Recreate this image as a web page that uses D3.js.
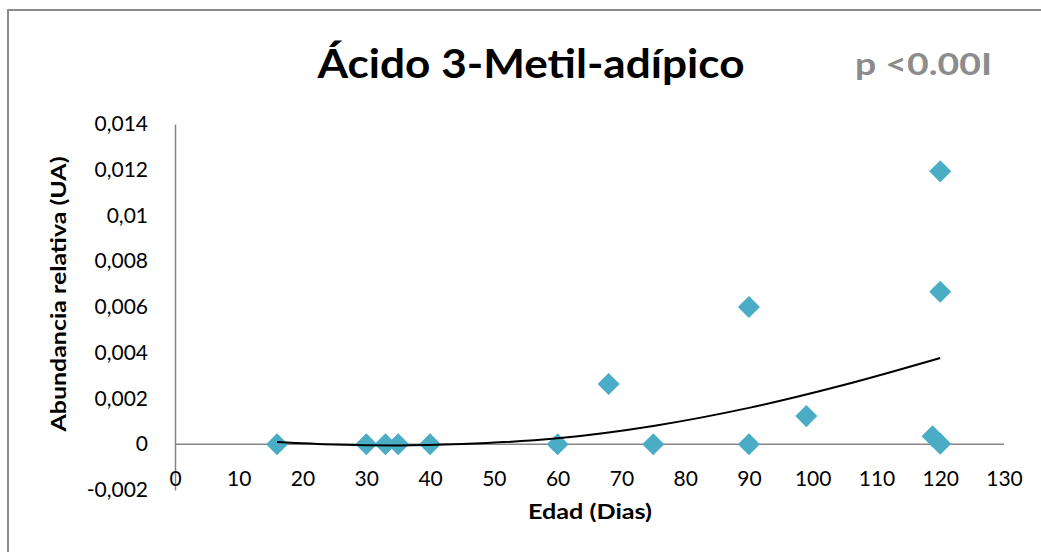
<!DOCTYPE html>
<html>
<head>
<meta charset="utf-8">
<script src="https://cdn.jsdelivr.net/npm/d3@7"></script>
<style>
  body { margin: 0; background: #fff; }
  svg text { font-family: Lato, "Open Sans", sans-serif; }
</style>
</head>
<body>
<svg width="1041" height="552"></svg>
<script>
// values
const edad = [16, 30, 33, 35, 40, 60, 68, 75, 90, 90, 99, 118.8, 120, 120, 120]
const abundancia = [0, 0, 0, 0, 0, 0, 0.00263, 0, 0, 0.006, 0.00123, 0.00035, 0.00002, 0.00667, 0.01193]

// polynomial trendline
const trendEdad = [16, 25, 35, 45, 60, 75, 90, 105, 120]
const trendValor = [0.0001, -0.00001, -0.00005, 0.00001, 0.00026, 0.0008, 0.00159, 0.0026, 0.00377]

const xTicks = [0, 10, 20, 30, 40, 50, 60, 70, 80, 90, 100, 110, 120, 130]
const yTicks = [-0.002, 0, 0.002, 0.004, 0.006, 0.008, 0.01, 0.012, 0.014]

const title = 'Ácido 3-Metil-adípico'
const pText = 'p <0.00I'
const xAxisLabel = 'Edad (Dias)'
const yAxisLabel = 'Abundancia relativa (UA)'

const width = 1041
const height = 552
const svg = d3.select('svg')

const margin = { top: 124, bottom: 62, left: 175, right: 37 }
const innerWidth = width - margin.left - margin.right
const innerHeight = height - margin.top - margin.bottom

const data = edad.map((x, i) => ({ x: x, y: abundancia[i] }))
const trend = trendEdad.map((x, i) => ({ x: x, y: trendValor[i] }))

// chart area border (only top and left show in the picture)
svg.append('path')
  .attr('d', `M8,${height} V10 H${width}`)
  .attr('fill', 'none')
  .attr('stroke', '#8c8c8c')
  .attr('stroke-width', 2)

const g = svg.append('g')
  .attr('transform', `translate(${margin.left},${margin.top})`)

const xScale = d3.scaleLinear()
  .domain([0, 130])
  .range([0, innerWidth])

const yScale = d3.scaleLinear()
  .domain([-0.002, 0.014])
  .range([innerHeight, 0])

const commaFmt = d => d === 0 ? '0' : String(+d.toFixed(3)).replace('.', ',')

// y axis
const yAxisG = g.append('g')
  .call(d3.axisLeft(yScale).tickValues(yTicks).tickSize(0).tickPadding(27).tickFormat(commaFmt))
yAxisG.select('.domain').attr('stroke', '#868686').attr('stroke-width', 1.5)
yAxisG.selectAll('text')
  .attr('font-size', 21)
  .attr('fill', '#000')

// x axis sits at y = 0, its labels sit at the bottom
g.append('line')
  .attr('x1', 0).attr('x2', innerWidth)
  .attr('y1', yScale(0)).attr('y2', yScale(0))
  .attr('stroke', '#868686')
  .attr('stroke-width', 1.5)

const xAxisG = g.append('g')
  .attr('transform', `translate(0,${innerHeight})`)
  .call(d3.axisBottom(xScale).tickValues(xTicks).tickSize(0).tickPadding(-19))
xAxisG.select('.domain').remove()
xAxisG.selectAll('text')
  .attr('font-size', 21)
  .attr('fill', '#000')

// points
g.append('g').selectAll('path')
  .data(data)
  .enter().append('path')
  .attr('d', d3.symbol().type(d3.symbolDiamond2).size(310))
  .attr('transform', d => `translate(${xScale(d.x)},${yScale(d.y)})`)
  .attr('fill', '#4bacc6')

g.append('path')
  .datum(trend)
  .attr('d', d3.line().curve(d3.curveMonotoneX).x(d => xScale(d.x)).y(d => yScale(d.y)))
  .attr('fill', 'none')
  .attr('stroke', '#000')
  .attr('stroke-width', 2)

// titles
svg.append('text')
  .attr('x', 531)
  .attr('y', 78)
  .attr('text-anchor', 'middle')
  .attr('font-size', 40)
  .attr('font-weight', 'bold')
  .attr('textLength', 427)
  .attr('lengthAdjust', 'spacingAndGlyphs')
  .attr('fill', '#000')
  .text(title)

svg.append('text')
  .attr('x', 855)
  .attr('y', 75)
  .attr('font-size', 30)
  .attr('font-weight', 'bold')
  .attr('textLength', 137)
  .attr('lengthAdjust', 'spacingAndGlyphs')
  .attr('fill', '#8c8c8c')
  .text(pText)

svg.append('text')
  .attr('x', 590)
  .attr('y', 519)
  .attr('text-anchor', 'middle')
  .attr('font-size', 20)
  .attr('font-weight', 'bold')
  .attr('textLength', 124)
  .attr('lengthAdjust', 'spacingAndGlyphs')
  .text(xAxisLabel)

svg.append('text')
  .attr('transform', 'translate(66,294) rotate(-90)')
  .attr('text-anchor', 'middle')
  .attr('font-size', 20)
  .attr('font-weight', 'bold')
  .attr('textLength', 275)
  .attr('lengthAdjust', 'spacingAndGlyphs')
  .text(yAxisLabel)
</script>
</body>
</html>
